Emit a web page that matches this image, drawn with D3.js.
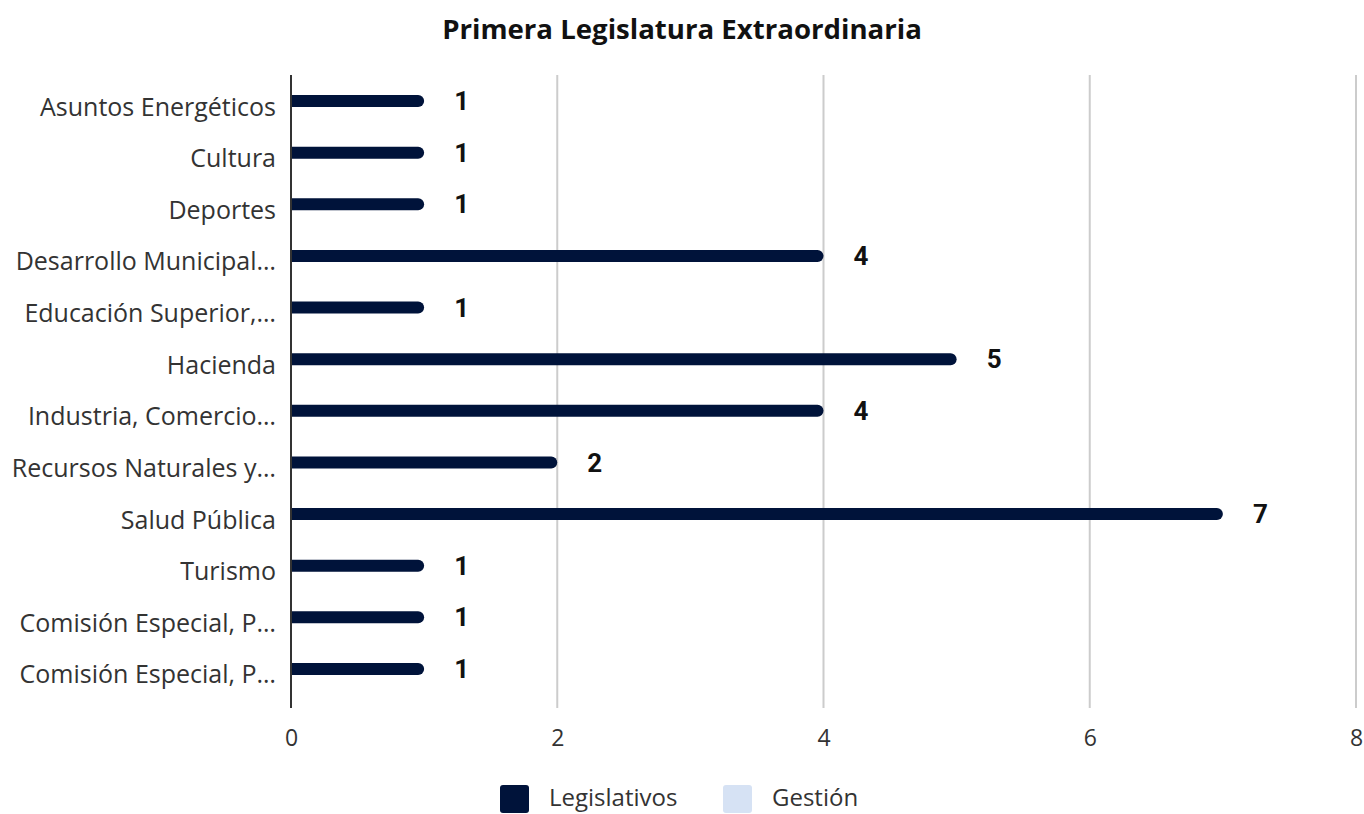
<!DOCTYPE html>
<html>
<head>
<meta charset="utf-8">
<script src="https://cdn.jsdelivr.net/npm/d3@7"></script>
<style>
  body { margin: 0; background: #fff; }
  svg { display: block; }
</style>
</head>
<body>
<svg id="chart" width="1364" height="814"></svg>
<script>
const title = "Primera Legislatura Extraordinaria";
const categories = [
  "Asuntos Energéticos",
  "Cultura",
  "Deportes",
  "Desarrollo Municipal…",
  "Educación Superior,…",
  "Hacienda",
  "Industria, Comercio…",
  "Recursos Naturales y…",
  "Salud Pública",
  "Turismo",
  "Comisión Especial, P…",
  "Comisión Especial, P…"
];
const legislativos = [1, 1, 1, 4, 1, 5, 4, 2, 7, 1, 1, 1];
const gestion = [0, 0, 0, 0, 0, 0, 0, 0, 0, 0, 0, 0];
const seriesNames = ["Legislativos", "Gestión"];
const seriesColors = ["#00133a", "#d6e2f4"];
const xTicks = [0, 2, 4, 6, 8];

const svg = d3.select("#chart");
const width = 1364, height = 814;
const margin = { top: 75, right: 8, bottom: 106, left: 291 };
const innerW = width - margin.left - margin.right;
const innerH = height - margin.top - margin.bottom;

const rows = categories.map((c, i) => ({ i, name: c, values: [legislativos[i], gestion[i]] }));

const x = d3.scaleLinear().domain([0, 8]).range([0, innerW]);
const y = d3.scaleBand().domain(d3.range(categories.length)).range([0, innerH]).paddingOuter(0.13).paddingInner(0);
const ySub = d3.scaleBand().domain([0, 1]).range([0, y.bandwidth()]).paddingInner(0.075).paddingOuter(1.02);

svg.append("text")
  .attr("x", width / 2)
  .attr("y", 39)
  .attr("text-anchor", "middle")
  .style("font-family", "'Open Sans', sans-serif")
  .style("font-weight", "bold")
  .style("font-size", "27.6px")
  .style("fill", "#111")
  .text(title);

const g = svg.append("g").attr("transform", `translate(${margin.left},${margin.top})`);

// gridlines
g.append("g")
  .selectAll("line")
  .data(xTicks.filter(t => t > 0))
  .join("line")
  .attr("x1", d => x(d)).attr("x2", d => x(d))
  .attr("y1", 0).attr("y2", innerH)
  .attr("stroke", "#cccccc")
  .attr("stroke-width", 2);

// x axis labels
const xAxis = d3.axisBottom(x).tickValues(xTicks).tickSize(0).tickPadding(22);
const xg = g.append("g").attr("transform", `translate(0,${innerH})`).call(xAxis);
xg.select(".domain").remove();
xg.selectAll("text")
  .style("font-family", "'Open Sans', sans-serif")
  .style("font-size", "23px")
  .style("fill", "#333");

// category labels
const yAxis = d3.axisLeft(y).tickFormat(i => categories[i]).tickSize(0).tickPadding(15);
const yg = g.append("g").call(yAxis);
yg.select(".domain").remove();
yg.selectAll("text")
  .style("font-family", "'Open Sans', sans-serif")
  .style("font-size", "25px")
  .style("fill", "#333");

// bars
const barH = ySub.bandwidth();
const r = barH / 2;
function barPath(w, h) {
  const rr = Math.min(r, w / 2);
  if (w <= 0) return "";
  return `M0,0H${w - rr}A${rr},${rr} 0 0 1 ${w},${rr}V${h - rr}A${rr},${rr} 0 0 1 ${w - rr},${h}H0Z`;
}
const rowG = g.append("g").selectAll("g")
  .data(rows)
  .join("g")
  .attr("transform", d => `translate(0,${y(d.i)})`);

rowG.selectAll("path")
  .data(d => d.values.map((v, k) => ({ v, k })))
  .join("path")
  .attr("transform", d => `translate(0,${ySub(d.k)})`)
  .attr("d", d => barPath(x(d.v), barH))
  .attr("fill", d => seriesColors[d.k]);

rowG.append("text")
  .attr("x", d => x(d.values[0]) + 30)
  .attr("y", ySub(0) + barH / 2)
  .attr("dy", "0.35em")
  .style("font-family", "Roboto, sans-serif")
  .style("font-weight", "bold")
  .style("font-size", "26px")
  .style("fill", "#111")
  .text(d => d.values[0]);

// left axis line
g.append("line")
  .attr("x1", 0).attr("x2", 0)
  .attr("y1", 0).attr("y2", innerH)
  .attr("stroke", "#333")
  .attr("stroke-width", 2);

// legend
const legend = svg.append("g").attr("transform", "translate(500,785)");
const items = [{ x: 0, tx: 49 }, { x: 223, tx: 272 }];
seriesNames.forEach((n, k) => {
  legend.append("rect")
    .attr("x", items[k].x).attr("y", 0)
    .attr("width", 29).attr("height", 28)
    .attr("rx", 3)
    .attr("fill", seriesColors[k]);
  legend.append("text")
    .attr("x", items[k].tx).attr("y", 20.5)
    .style("font-family", "'Open Sans', sans-serif")
    .style("font-size", "24px")
    .style("fill", "#333")
    .text(n);
});
</script>
</body>
</html>
